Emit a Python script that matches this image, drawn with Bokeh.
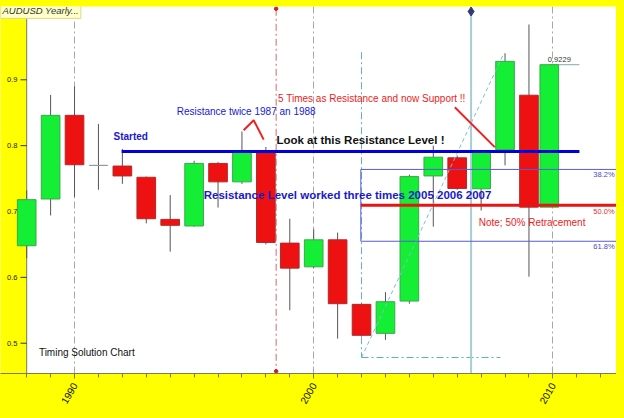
import numpy as np
from bokeh.plotting import figure
from bokeh.models import (Range1d, FixedTicker, BoxAnnotation, Span, Label,
                          ColumnDataSource, GlobalInlineStyleSheet)
from bokeh.embed import file_html
from bokeh.resources import INLINE
from bokeh.core.properties import value

# ---------------- data ----------------
years = [1988, 1989, 1990, 1991, 1992, 1993, 1994, 1995, 1996, 1997, 1998,
         1999, 2000, 2001, 2002, 2003, 2004, 2005, 2006, 2007, 2008, 2009, 2009.85]
opens = [0.648, 0.719, 0.846, 0.770, 0.769, 0.752, 0.688, 0.678, 0.773, 0.745, 0.789,
         0.652, 0.616, 0.657, 0.559, 0.515, 0.564, 0.754, 0.7815, 0.7345, 0.794, 0.8766, 0.7066]
highs = [0.732, 0.877, 0.890, 0.833, 0.795, 0.753, 0.725, 0.777, 0.775, 0.8215, 0.798,
         0.689, 0.674, 0.668, 0.560, 0.5775, 0.756, 0.800, 0.785, 0.792, 0.9404, 0.984, 0.9229]
lows = [0.629, 0.694, 0.722, 0.733, 0.742, 0.682, 0.639, 0.677, 0.706, 0.742, 0.650,
        0.550, 0.614, 0.507, 0.510, 0.505, 0.560, 0.677, 0.733, 0.7015, 0.770, 0.601, 0.7066]
closes = [0.718, 0.846, 0.771, 0.770, 0.754, 0.689, 0.679, 0.773, 0.745, 0.790, 0.653,
          0.614, 0.657, 0.560, 0.512, 0.563, 0.753, 0.7825, 0.735, 0.791, 0.928, 0.7066, 0.9229]

x_major = [1990, 2000, 2010]
x_minor = list(range(1988, 2013))
y_ticks = [0.5, 0.6, 0.7, 0.8, 0.9]
y_tick_labels = ["0.5", "0.6", "0.7", "0.8", "0.9"]

resistance_level = 0.791
fib_high = 0.9404
fib_low = 0.4783
fib_ratios = [0.382, 0.5, 0.618]
fib_labels = ["38.2%", "50.0%", "61.8%"]
last_close = 0.9229

# ---------------- figure ----------------
X0, X1 = 1986.905, 2012.66
Y0, Y1 = 0.454, 1.0113
p = figure(width=616, height=410, output_backend="svg", toolbar_location=None,
           x_range=Range1d(X0, X1), y_range=Range1d(Y0, Y1),
           y_axis_location=None,
           min_border_left=0, min_border_right=0, min_border_top=6, min_border_bottom=37,
           border_fill_color="#ffff00", background_fill_color="white",
           outline_line_color=None)
p.stylesheets = [GlobalInlineStyleSheet(css="body { background-color: #ffff00; }")]

for g in p.grid:
    if g.dimension == 1:
        g.visible = False

# x axis
p.xaxis.ticker = FixedTicker(ticks=x_major, minor_ticks=x_minor)
p.xaxis.major_label_orientation = np.pi / 3
p.xaxis.major_label_text_font = "Liberation Sans"
p.xaxis.major_label_text_font_size = "10px"
p.xaxis.major_label_text_color = "#111111"
p.xaxis.major_label_standoff = 5
p.xaxis.axis_line_color = "#7a7a60"
p.xaxis.major_tick_line_color = "#7a7a60"
p.xaxis.minor_tick_line_color = "#7a7a60"
p.xaxis.major_tick_in = 0
p.xaxis.major_tick_out = 5
p.xaxis.minor_tick_in = 0
p.xaxis.minor_tick_out = 4
p.xgrid.ticker = FixedTicker(ticks=x_major)
p.xgrid.grid_line_color = "#a8a8a8"
p.xgrid.grid_line_dash = "7 3 2 3"

# yellow strip on the left of the price axis
p.add_layout(BoxAnnotation(right=1988.0, fill_color="#ffff00", fill_alpha=1.0,
                           line_alpha=0, level="underlay"))
p.add_layout(Span(location=1988.0, dimension="height", line_color="#7a7a60",
                  line_width=1, level="underlay"))

# manual price axis ticks & labels
tick_src = ColumnDataSource(dict(y=y_ticks, t=y_tick_labels,
                                 x0=[1987.74] * len(y_ticks), x1=[1988.0] * len(y_ticks),
                                 xt=[1987.615] * len(y_ticks)))
p.segment(x0="x0", y0="y", x1="x1", y1="y", source=tick_src, line_color="#333333")
p.text(x="xt", y="y", text="t", source=tick_src, text_font=value("Liberation Sans"),
       text_font_size="7.5px", text_align="right", text_baseline="middle",
       text_color="#222222")

# ---------------- construction lines ----------------
# red dash-dot vertical line with end dots
p.segment(x0=[1998.43], y0=[1.0078], x1=[1998.43], y1=[0.4575],
          line_color="#d46a6a", line_dash="7 3 2 3", line_width=1)
p.scatter(x=[1998.43, 1998.43], y=[1.0078, 0.4575], size=3.5, color="#cc2222")

# teal triangle construction (fib swing)
p.segment(x0=[2002.0], y0=[fib_high + 0.0015], x1=[2002.0], y1=[fib_low],
          line_color="#5fb0b8", line_dash="7 3 2 3", line_width=1)
p.segment(x0=[2002.0], y0=[fib_low], x1=[2007.81], y1=[fib_low],
          line_color="#5fb0b8", line_dash="7 3 2 3", line_width=1)

# candles
top = [max(o, c) for o, c in zip(opens, closes)]
bot = [min(o, c) for o, c in zip(opens, closes)]
fill = ["#14ee34" if c > o else ("#ee1111" if c < o else "#9a9a9a") for o, c in zip(opens, closes)]
edge = ["#3aa84a" if c > o else ("#b02a2a" if c < o else "#9a9a9a") for o, c in zip(opens, closes)]
src = ColumnDataSource(dict(x=years, h=highs, l=lows, top=top, bot=bot, fill=fill, edge=edge))

# last close marker line (behind candle)
p.segment(x0=[years[-1]], y0=[last_close], x1=[2011.11], y1=[last_close],
          line_color="#86a8ac", line_width=1)

p.segment(x0="x", y0="h", x1="x", y1="l", source=src, line_color="#555555", line_width=1)
p.vbar(x="x", width=0.78, top="top", bottom="bot", fill_color="fill",
       line_color="edge", line_width=1, source=src)

# diagonal dashed fib line
p.segment(x0=[2002.0], y0=[fib_low], x1=[2007.95], y1=[fib_high],
          line_color="#7cc0d0", line_dash="4 3", line_width=1)

# light-blue time line with diamond
p.segment(x0=[2006.58], y0=[1.0037], x1=[2006.58], y1=[Y0],
          line_color="#a6cdd8", line_width=2)
p.scatter(x=[2006.58], y=[1.0037], marker="diamond", size=9, color="#303a80")

# fibonacci levels
fib_levels = [fib_high - r * (fib_high - fib_low) for r in fib_ratios]
p.segment(x0=[2001.97], y0=[fib_levels[0]], x1=[2001.97], y1=[fib_levels[2]],
          line_color="#5a5ad8", line_width=1)
for lvl, r in zip(fib_levels, fib_ratios):
    if r == 0.5:
        p.segment(x0=[2001.97], y0=[lvl], x1=[X1], y1=[lvl], line_color="#e81414", line_width=3)
    else:
        p.segment(x0=[2001.97], y0=[lvl], x1=[X1], y1=[lvl], line_color="#5a5ad8", line_width=1)

# resistance line
p.segment(x0=[1991.97], y0=[resistance_level], x1=[2011.11], y1=[resistance_level],
          line_color="#0000dd", line_width=3)

# red pointers
p.line(x=[1997.07, 1997.49, 1997.91], y=[0.8233, 0.8385, 0.8092], line_color="#ee2222", line_width=2)
p.segment(x0=[2005.90], y0=[0.8584], x1=[2007.57], y1=[0.7977], line_color="#ee2222", line_width=2)

# ---------------- texts ----------------
def lab(x, y, text, size, color, style="normal", align="left"):
    p.add_layout(Label(x=x, y=y, text=text, text_font="Liberation Sans",
                       text_font_size=size, text_color=color, text_font_style=style,
                       text_align=align, text_baseline="middle"))

lab(1991.63, 0.8144, "Started", "10px", "#1818d0", "bold")
lab(1994.27, 0.8519, "Resistance twice 1987 an 1988", "10px", "#1818d8")
lab(1998.51, 0.8711, "5 Times as Resistance and now Support !!", "10px", "#ee1c1c")
lab(1998.44, 0.8089, "Look at this Resistance Level !", "11.5px", "#111111", "bold")
lab(1995.40, 0.7243, "Resistance Level worked three times 2005 2006 2007", "11.5px", "#1a1acc", "bold")
lab(2006.90, 0.6838, "Note; 50% Retracement", "10px", "#ee1c1c")
lab(1988.51, 0.4863, "Timing Solution Chart", "10px", "#111111")
lab(2010.27, 0.9304, "0.9229", "7.5px", "#333333", align="center")
fib_label_y = [0.7562, 0.7005, 0.6464]
fib_label_colors = ["#4a4ac8", "#dd3333", "#4a4ac8"]
for t, yy, cc in zip(fib_labels, fib_label_y, fib_label_colors):
    lab(2012.58, yy, t, "7.5px", cc, align="right")

# title box
p.add_layout(Label(x=X0, y=1.0160, text="AUDUSD Yearly...", text_font="Liberation Sans",
                   text_font_size="9.5px", text_font_style="italic", text_color="#333333",
                   text_align="left", text_baseline="top", padding=2,
                   background_fill_color="#ffffc8", background_fill_alpha=1.0,
                   border_line_color="#d8d890"))

open("out.html", "w").write(file_html(p, INLINE))
